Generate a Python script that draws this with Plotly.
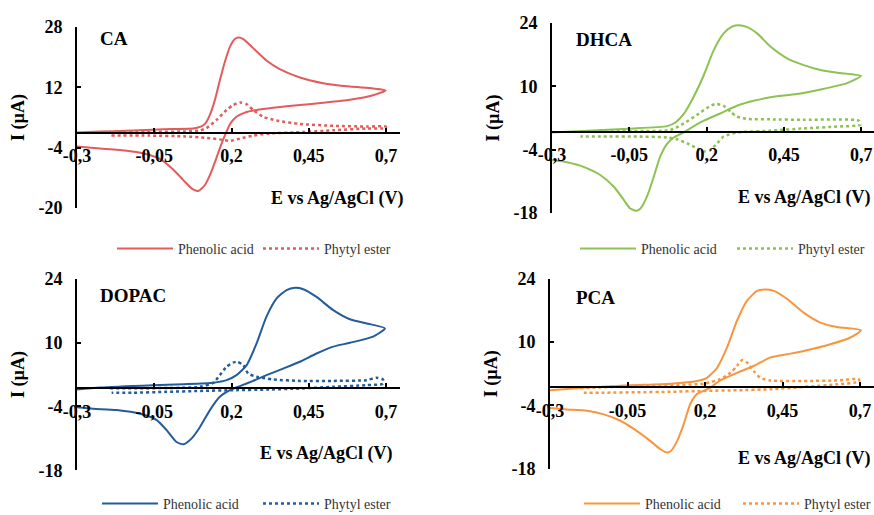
import plotly.graph_objects as go

# ---------------- data (E in V vs Ag/AgCl, I in µA) ----------------
CA_acid_E = [-0.30, -0.226, -0.139, -0.055, 0.011, 0.076, 0.098, 0.114, 0.130, 0.146, 0.162, 0.179, 0.195, 0.211, 0.222, 0.238, 0.270, 0.313, 0.356, 0.421, 0.496, 0.583, 0.658, 0.699,
             0.658, 0.583, 0.496, 0.421, 0.335, 0.281, 0.243, 0.216, 0.197, 0.182, 0.165, 0.146, 0.130, 0.114, 0.092, 0.074, 0.044, 0.011, -0.032, -0.086, -0.139, -0.226, -0.30]
CA_acid_I = [0.0, 0.26, 0.5, 0.78, 0.95, 1.1, 1.5, 2.3, 4.7, 8.6, 13.8, 18.9, 22.8, 24.8, 25.2, 24.8, 22.4, 19.1, 16.8, 14.6, 13.1, 12.2, 11.7, 11.2,
             9.9, 8.7, 7.9, 7.3, 6.6, 6.0, 5.3, 4.2, 2.5, -0.1, -3.5, -7.9, -11.3, -13.9, -15.5, -15.0, -12.6, -9.8, -7.0, -5.5, -4.8, -4.2, -3.7]
CA_ester_E = [-0.19, -0.05, 0.05, 0.10, 0.119, 0.152, 0.184, 0.205, 0.227, 0.249, 0.270, 0.302, 0.346, 0.421, 0.529, 0.637, 0.699,
              0.699, 0.637, 0.529, 0.421, 0.313, 0.270, 0.227, 0.195, 0.162, 0.119, 0.044, -0.066, -0.193]
CA_ester_I = [0.1, 0.2, 0.3, 0.6, 1.2, 3.4, 6.0, 7.3, 8.0, 7.5, 6.0, 4.2, 3.2, 2.3, 1.8, 1.6, 1.6,
              1.2, 1.1, 0.6, 0.1, -0.3, -0.8, -1.6, -2.2, -1.8, -1.4, -1.0, -0.8, -0.8]

DHCA_acid_E = [-0.300, -0.187, -0.052, 0.072, 0.099, 0.126, 0.158, 0.191, 0.223, 0.255, 0.282, 0.304, 0.331, 0.363, 0.406, 0.460, 0.514, 0.568, 0.622, 0.699,
               0.654, 0.568, 0.492, 0.406, 0.352, 0.298, 0.244, 0.191, 0.147, 0.126, 0.094, 0.072, 0.050, 0.029, 0.007, -0.014, -0.027, -0.047, -0.068, -0.100, -0.144, -0.198, -0.252, -0.300]
DHCA_acid_I = [-0.2, 0.2, 0.65, 1.2, 2.0, 3.9, 7.7, 12.5, 18.0, 21.7, 23.2, 23.5, 23.1, 21.7, 18.8, 16.2, 14.7, 13.6, 13.0, 12.3,
               10.7, 9.3, 8.3, 7.6, 6.8, 5.7, 4.0, 2.4, 0.7, -0.2, -1.3, -2.7, -5.5, -10.0, -14.4, -17.0, -17.5, -17.0, -15.1, -12.2, -9.6, -7.8, -6.8, -6.3]
DHCA_ester_E = [-0.208, -0.025, 0.083, 0.126, 0.169, 0.201, 0.228, 0.255, 0.277, 0.298, 0.331, 0.406, 0.514, 0.692,
                0.697, 0.622, 0.514, 0.406, 0.298, 0.255, 0.234, 0.212, 0.191, 0.169, 0.137, 0.104, 0.072, -0.025, -0.133, -0.208]
DHCA_ester_I = [0.0, 0.1, 0.35, 1.8, 3.7, 5.2, 6.1, 5.7, 4.4, 3.3, 2.8, 2.7, 2.6, 2.4,
                1.5, 1.1, 0.7, 0.2, -0.2, -1.1, -2.6, -4.1, -4.4, -3.7, -2.6, -1.7, -1.3, -1.1, -1.1, -1.1]

DOPAC_acid_E = [-0.30, -0.226, -0.055, 0.044, 0.141, 0.184, 0.216, 0.249, 0.281, 0.313, 0.346, 0.378, 0.405, 0.432, 0.475, 0.529, 0.583, 0.637, 0.696,
                0.658, 0.583, 0.529, 0.475, 0.421, 0.367, 0.313, 0.270, 0.227, 0.195, 0.162, 0.130, 0.098, 0.071, 0.044, 0.022, -0.010, -0.042, -0.096, -0.172, -0.247, -0.30]
DOPAC_acid_I = [-0.3, 0.15, 0.66, 0.88, 1.2, 1.76, 2.85, 5.05, 9.8, 15.7, 19.7, 21.5, 22.0, 21.7, 20.0, 17.1, 15.1, 14.2, 13.1,
                11.3, 9.95, 9.1, 7.6, 5.8, 4.3, 2.85, 1.6, 0.44, -0.44, -1.9, -4.8, -8.5, -11.0, -12.3, -11.8, -9.2, -7.0, -5.6, -4.8, -4.5, -4.2]
DOPAC_ester_E = [-0.193, 0.098, 0.141, 0.162, 0.184, 0.205, 0.218, 0.238, 0.254, 0.281, 0.335, 0.421, 0.529, 0.637, 0.669, 0.690,
                 0.690, 0.637, 0.529, 0.421, 0.313, 0.205, 0.098, -0.010, -0.118, -0.188]
DOPAC_ester_I = [0.0, 0.3, 1.2, 2.85, 4.7, 5.6, 5.8, 5.05, 3.2, 2.5, 1.9, 1.6, 1.6, 1.76, 2.3, 1.9,
                 1.0, 0.66, 0.3, -0.07, -0.3, -0.44, -0.6, -0.8, -1.0, -1.0]

PCA_acid_E = [-0.300, -0.181, -0.046, 0.088, 0.174, 0.206, 0.239, 0.271, 0.303, 0.335, 0.368, 0.395, 0.422, 0.465, 0.518, 0.572, 0.626, 0.703,
              0.669, 0.604, 0.518, 0.465, 0.411, 0.357, 0.303, 0.249, 0.217, 0.196, 0.174, 0.153, 0.131, 0.110, 0.088, 0.077, 0.056, 0.024, -0.019, -0.073, -0.127, -0.181, -0.245, -0.300]
PCA_acid_I = [-0.66, -0.07, 0.44, 0.8, 1.4, 2.1, 4.3, 8.8, 14.7, 19.1, 21.3, 21.6, 21.3, 19.5, 16.5, 14.3, 13.3, 12.6,
              11.0, 9.5, 8.0, 7.3, 6.6, 4.7, 3.2, 1.5, -0.07, -0.8, -1.5, -3.6, -8.2, -11.9, -14.2, -14.4, -13.7, -11.9, -9.7, -7.4, -6.0, -5.2, -4.9, -4.6]
PCA_ester_E = [-0.202, -0.019, 0.196, 0.249, 0.282, 0.303, 0.319, 0.335, 0.357, 0.378, 0.411, 0.518, 0.626, 0.696,
               0.696, 0.626, 0.518, 0.411, 0.303, 0.196, 0.088, -0.019, -0.127, -0.191]
PCA_ester_I = [-0.2, 0.3, 0.8, 1.8, 3.2, 4.7, 6.0, 5.5, 3.6, 2.1, 1.5, 1.4, 1.5, 1.8,
               1.25, 0.66, 0.07, -0.44, -0.66, -0.8, -1.0, -1.1, -1.2, -1.2]

X_TICKS = [-0.3, -0.05, 0.2, 0.45, 0.7]
X_TICKTEXT = ['-0,3', '-0,05', '0,2', '0,45', '0,7']
Y_TICKS_CA = [-20, -4, 12, 28]
Y_TICKS_OTHER = [-18, -4, 10, 24]
SERIES_NAMES = ['Phenolic acid', 'Phytyl ester']
X_TITLE = 'E vs Ag/AgCl (V)'
Y_TITLE = 'I (µA)'

# ---------------- layout helpers ----------------
W, H = 874, 515
FONT = 'Liberation Serif, Times New Roman, serif'

def px_x(p):
    return p / W

def px_y(p):
    return 1 - p / H

panels = [
    dict(name='CA', color='#E35B5B', acid=(CA_acid_E, CA_acid_I), ester=(CA_ester_E, CA_ester_I),
         xpx=(77, 400), xr=(-0.3, 0.745), ypx=(208, 27), yr=(-20, 28), yt=Y_TICKS_CA,
         title_px=(98, 38), xtitle_px=(337, 198), leg_px=(112, 249), entry=75),
    dict(name='DHCA', color='#8DC152', acid=(DHCA_acid_E, DHCA_acid_I), ester=(DHCA_ester_E, DHCA_ester_I),
         xpx=(552, 874), xr=(-0.3, 0.741), ypx=(213, 23), yr=(-18, 24), yt=Y_TICKS_OTHER,
         title_px=(574, 40), xtitle_px=(804, 197), leg_px=(575, 249), entry=86),
    dict(name='DOPAC', color='#235C9A', acid=(DOPAC_acid_E, DOPAC_acid_I), ester=(DOPAC_ester_E, DOPAC_ester_I),
         xpx=(77, 400), xr=(-0.3, 0.745), ypx=(470.3, 278.7), yr=(-18, 24), yt=Y_TICKS_OTHER,
         title_px=(98, 295), xtitle_px=(326, 453), leg_px=(97, 504), entry=90),
    dict(name='PCA', color='#F7963F', acid=(PCA_acid_E, PCA_acid_I), ester=(PCA_ester_E, PCA_ester_I),
         xpx=(550, 874), xr=(-0.3, 0.745), ypx=(468.7, 278.7), yr=(-18, 24), yt=Y_TICKS_OTHER,
         title_px=(574, 297), xtitle_px=(804, 458), leg_px=(579, 504), entry=88),
]

fig = go.Figure()
annotations = []
layout = dict(width=W, height=H, margin=dict(l=0, r=0, t=0, b=0, autoexpand=False),
              paper_bgcolor='white', plot_bgcolor='white', showlegend=True,
              font=dict(family=FONT, color='black'))

for i, p in enumerate(panels, start=1):
    sfx = '' if i == 1 else str(i)
    xa, ya, lg = 'x' + sfx, 'y' + sfx, 'legend' + sfx
    for (E, I), nm, dash in [(p['acid'], SERIES_NAMES[0], 'solid'), (p['ester'], SERIES_NAMES[1], '3px,3px')]:
        fig.add_trace(go.Scatter(x=E, y=I, mode='lines', name=nm, xaxis=xa, yaxis=ya, legend=lg,
                                 line=dict(color=p['color'], width=2 if dash == 'solid' else 2.5,
                                           dash=dash, shape='spline', smoothing=0.6),
                                 hoverinfo='skip'))
    ydom = [px_y(p['ypx'][0]), px_y(p['ypx'][1])]
    xdom = [px_x(p['xpx'][0]), px_x(p['xpx'][1])]
    y0, y1 = p['yr']
    zero_pos = ydom[0] + (0 - y0) / (y1 - y0) * (ydom[1] - ydom[0])
    layout['xaxis' + sfx] = dict(domain=xdom, range=list(p['xr']), anchor='free', position=zero_pos,
                                 tickvals=X_TICKS, ticktext=X_TICKTEXT, showline=True, linecolor='black',
                                 linewidth=2, ticks='inside', ticklen=4, tickwidth=2, tickcolor='black',
                                 showgrid=False, zeroline=False, ticklabelstandoff=7, automargin=False,
                                 tickfont=dict(family=FONT, size=18, color='black', weight='bold'))
    layout['yaxis' + sfx] = dict(domain=ydom, range=list(p['yr']), anchor=xa,
                                 tickvals=p['yt'], ticktext=[str(v) for v in p['yt']],
                                 showline=True, linecolor='black', linewidth=2, ticks='inside',
                                 ticklen=4, tickwidth=2, tickcolor='black', showgrid=False, zeroline=False,
                                 ticklabelstandoff=9, automargin=False,
                                 tickfont=dict(family=FONT, size=18, color='black', weight='bold'),
                                 title=dict(text=Y_TITLE, standoff=9,
                                            font=dict(family=FONT, size=18, color='black', weight='bold')))
    layout[lg] = dict(orientation='h', x=px_x(p['leg_px'][0]), y=px_y(p['leg_px'][1]),
                      xanchor='left', yanchor='middle', bgcolor='rgba(0,0,0,0)', itemwidth=56,
                      entrywidth=p['entry'], entrywidthmode='pixels',
                      font=dict(family=FONT, size=14, color='#333333'), itemclick=False)
    annotations.append(dict(text=p['name'], xref='paper', yref='paper', x=px_x(p['title_px'][0]),
                            y=px_y(p['title_px'][1]), xanchor='left', yanchor='middle', showarrow=False,
                            font=dict(family=FONT, size=19, color='black', weight='bold')))
    annotations.append(dict(text=X_TITLE, xref='paper', yref='paper', x=px_x(p['xtitle_px'][0]),
                            y=px_y(p['xtitle_px'][1]), xanchor='center', yanchor='middle', showarrow=False,
                            font=dict(family=FONT, size=18, color='black', weight='bold')))

layout['annotations'] = annotations
fig.update_layout(**layout)
fig.write_html('out.html', config={'displayModeBar': False},
               post_script="document.body.style.margin='0px';document.body.style.overflow='hidden';")
